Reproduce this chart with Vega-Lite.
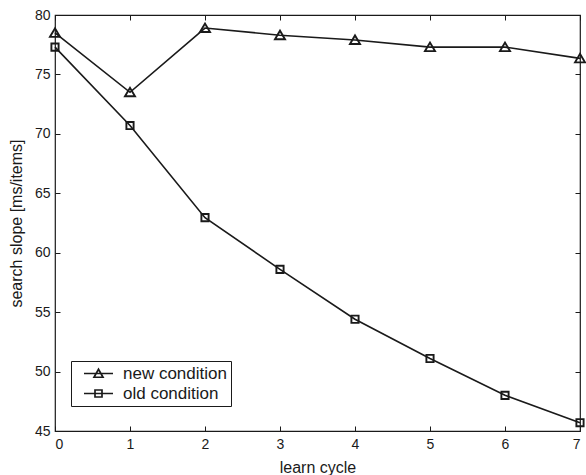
{
  "$schema": "https://vega.github.io/schema/vega-lite/v6.json",
  "width": 525,
  "height": 416,
  "autosize": {"type": "none"},
  "padding": {"left": 55, "top": 15, "right": 6, "bottom": 44},
  "background": "white",
  "config": {
    "font": "Liberation Sans",
    "view": {"stroke": "#1a1a1a", "strokeWidth": 1.2},
    "axis": {
      "domain": false,
      "grid": false,
      "ticks": true,
      "tickColor": "#1a1a1a",
      "tickSize": -5,
      "tickWidth": 1,
      "labelColor": "#1a1a1a",
      "labelFont": "Liberation Sans",
      "labelFontSize": 14,
      "titleFont": "Liberation Sans",
      "titleFontSize": 16,
      "titleFontWeight": "normal",
      "titleColor": "#1a1a1a"
    }
  },
  "data": {
    "values": [
      {"cycle": 0, "slope": 78.5, "series": "new condition"},
      {"cycle": 1, "slope": 73.5, "series": "new condition"},
      {"cycle": 2, "slope": 78.9, "series": "new condition"},
      {"cycle": 3, "slope": 78.3, "series": "new condition"},
      {"cycle": 4, "slope": 77.9, "series": "new condition"},
      {"cycle": 5, "slope": 77.3, "series": "new condition"},
      {"cycle": 6, "slope": 77.3, "series": "new condition"},
      {"cycle": 7, "slope": 76.35, "series": "new condition"},
      {"cycle": 0, "slope": 77.3, "series": "old condition"},
      {"cycle": 1, "slope": 70.7, "series": "old condition"},
      {"cycle": 2, "slope": 62.95, "series": "old condition"},
      {"cycle": 3, "slope": 58.6, "series": "old condition"},
      {"cycle": 4, "slope": 54.4, "series": "old condition"},
      {"cycle": 5, "slope": 51.1, "series": "old condition"},
      {"cycle": 6, "slope": 48.0, "series": "old condition"},
      {"cycle": 7, "slope": 45.7, "series": "old condition"}
    ]
  },
  "layer": [
    {
      "mark": {"type": "line", "color": "#1a1a1a", "strokeWidth": 1.6, "clip": false},
      "encoding": {
        "x": {
          "field": "cycle", "type": "quantitative",
          "scale": {"domain": [0, 7], "nice": false, "zero": false},
          "axis": {"orient": "bottom", "values": [0,1,2,3,4,5,6,7], "title": "learn cycle", "labelPadding": 11, "titlePadding": 8}
        },
        "y": {
          "field": "slope", "type": "quantitative",
          "scale": {"domain": [45, 80], "nice": false, "zero": false},
          "axis": {"orient": "left", "values": [45,50,55,60,65,70,75,80], "title": "search slope [ms/items]", "labelPadding": 10, "titlePadding": 10}
        },
        "detail": {"field": "series", "type": "nominal"}
      }
    },
    {
      "mark": {"type": "point", "filled": false, "opacity": 1, "color": "#1a1a1a", "strokeWidth": 1.9, "size": 100, "clip": false},
      "encoding": {
        "x": {"field": "cycle", "type": "quantitative", "axis": null},
        "y": {"field": "slope", "type": "quantitative", "axis": null},
        "shape": {
          "field": "series", "type": "nominal",
          "scale": {"domain": ["new condition", "old condition"], "range": ["M-1,0.8L0,-0.9L1,0.8Z", "M-0.72,-0.72H0.72V0.72H-0.72Z"]},
          "legend": null
        }
      }
    },
    {
      "mark": {"type": "point", "filled": false, "opacity": 0, "color": "#1a1a1a", "strokeWidth": 1.7, "size": 100},
      "encoding": {
        "x": {"field": "cycle", "type": "quantitative", "axis": {"orient": "top", "values": [0,1,2,3,4,5,6,7], "labels": false, "title": null}},
        "y": {"field": "slope", "type": "quantitative", "axis": {"orient": "right", "values": [45,50,55,60,65,70,75,80], "labels": false, "title": null}},
        "shape": {
          "field": "series", "type": "nominal",
          "scale": {"domain": ["new condition", "old condition"], "range": ["M-2.9,0H2.9M-0.9,0.75L0,-0.85L0.9,0.75Z", "M-2.9,0H2.9M-0.7,-0.7H0.7V0.7H-0.7Z"]},
          "legend": {
            "title": null,
            "orient": "none",
            "legendX": 16,
            "legendY": 346,
            "padding": 4,
            "strokeColor": "#1a1a1a",
            "fillColor": "white",
            "cornerRadius": 0,
            "symbolSize": 100,
            "symbolOffset": 15,
            "symbolOpacity": 1,
            "symbolStrokeColor": "#1a1a1a",
            "symbolFillColor": "transparent",
            "labelOffset": 16,
            "labelFontSize": 17,
            "labelFont": "Liberation Sans",
            "labelColor": "#1a1a1a",
            "rowPadding": 2,
            "symbolStrokeWidth": 1.7
          }
        }
      }
    }
  ],
  "resolve": {"axis": {"x": "independent", "y": "independent"}, "scale": {"shape": "independent"}}
}
